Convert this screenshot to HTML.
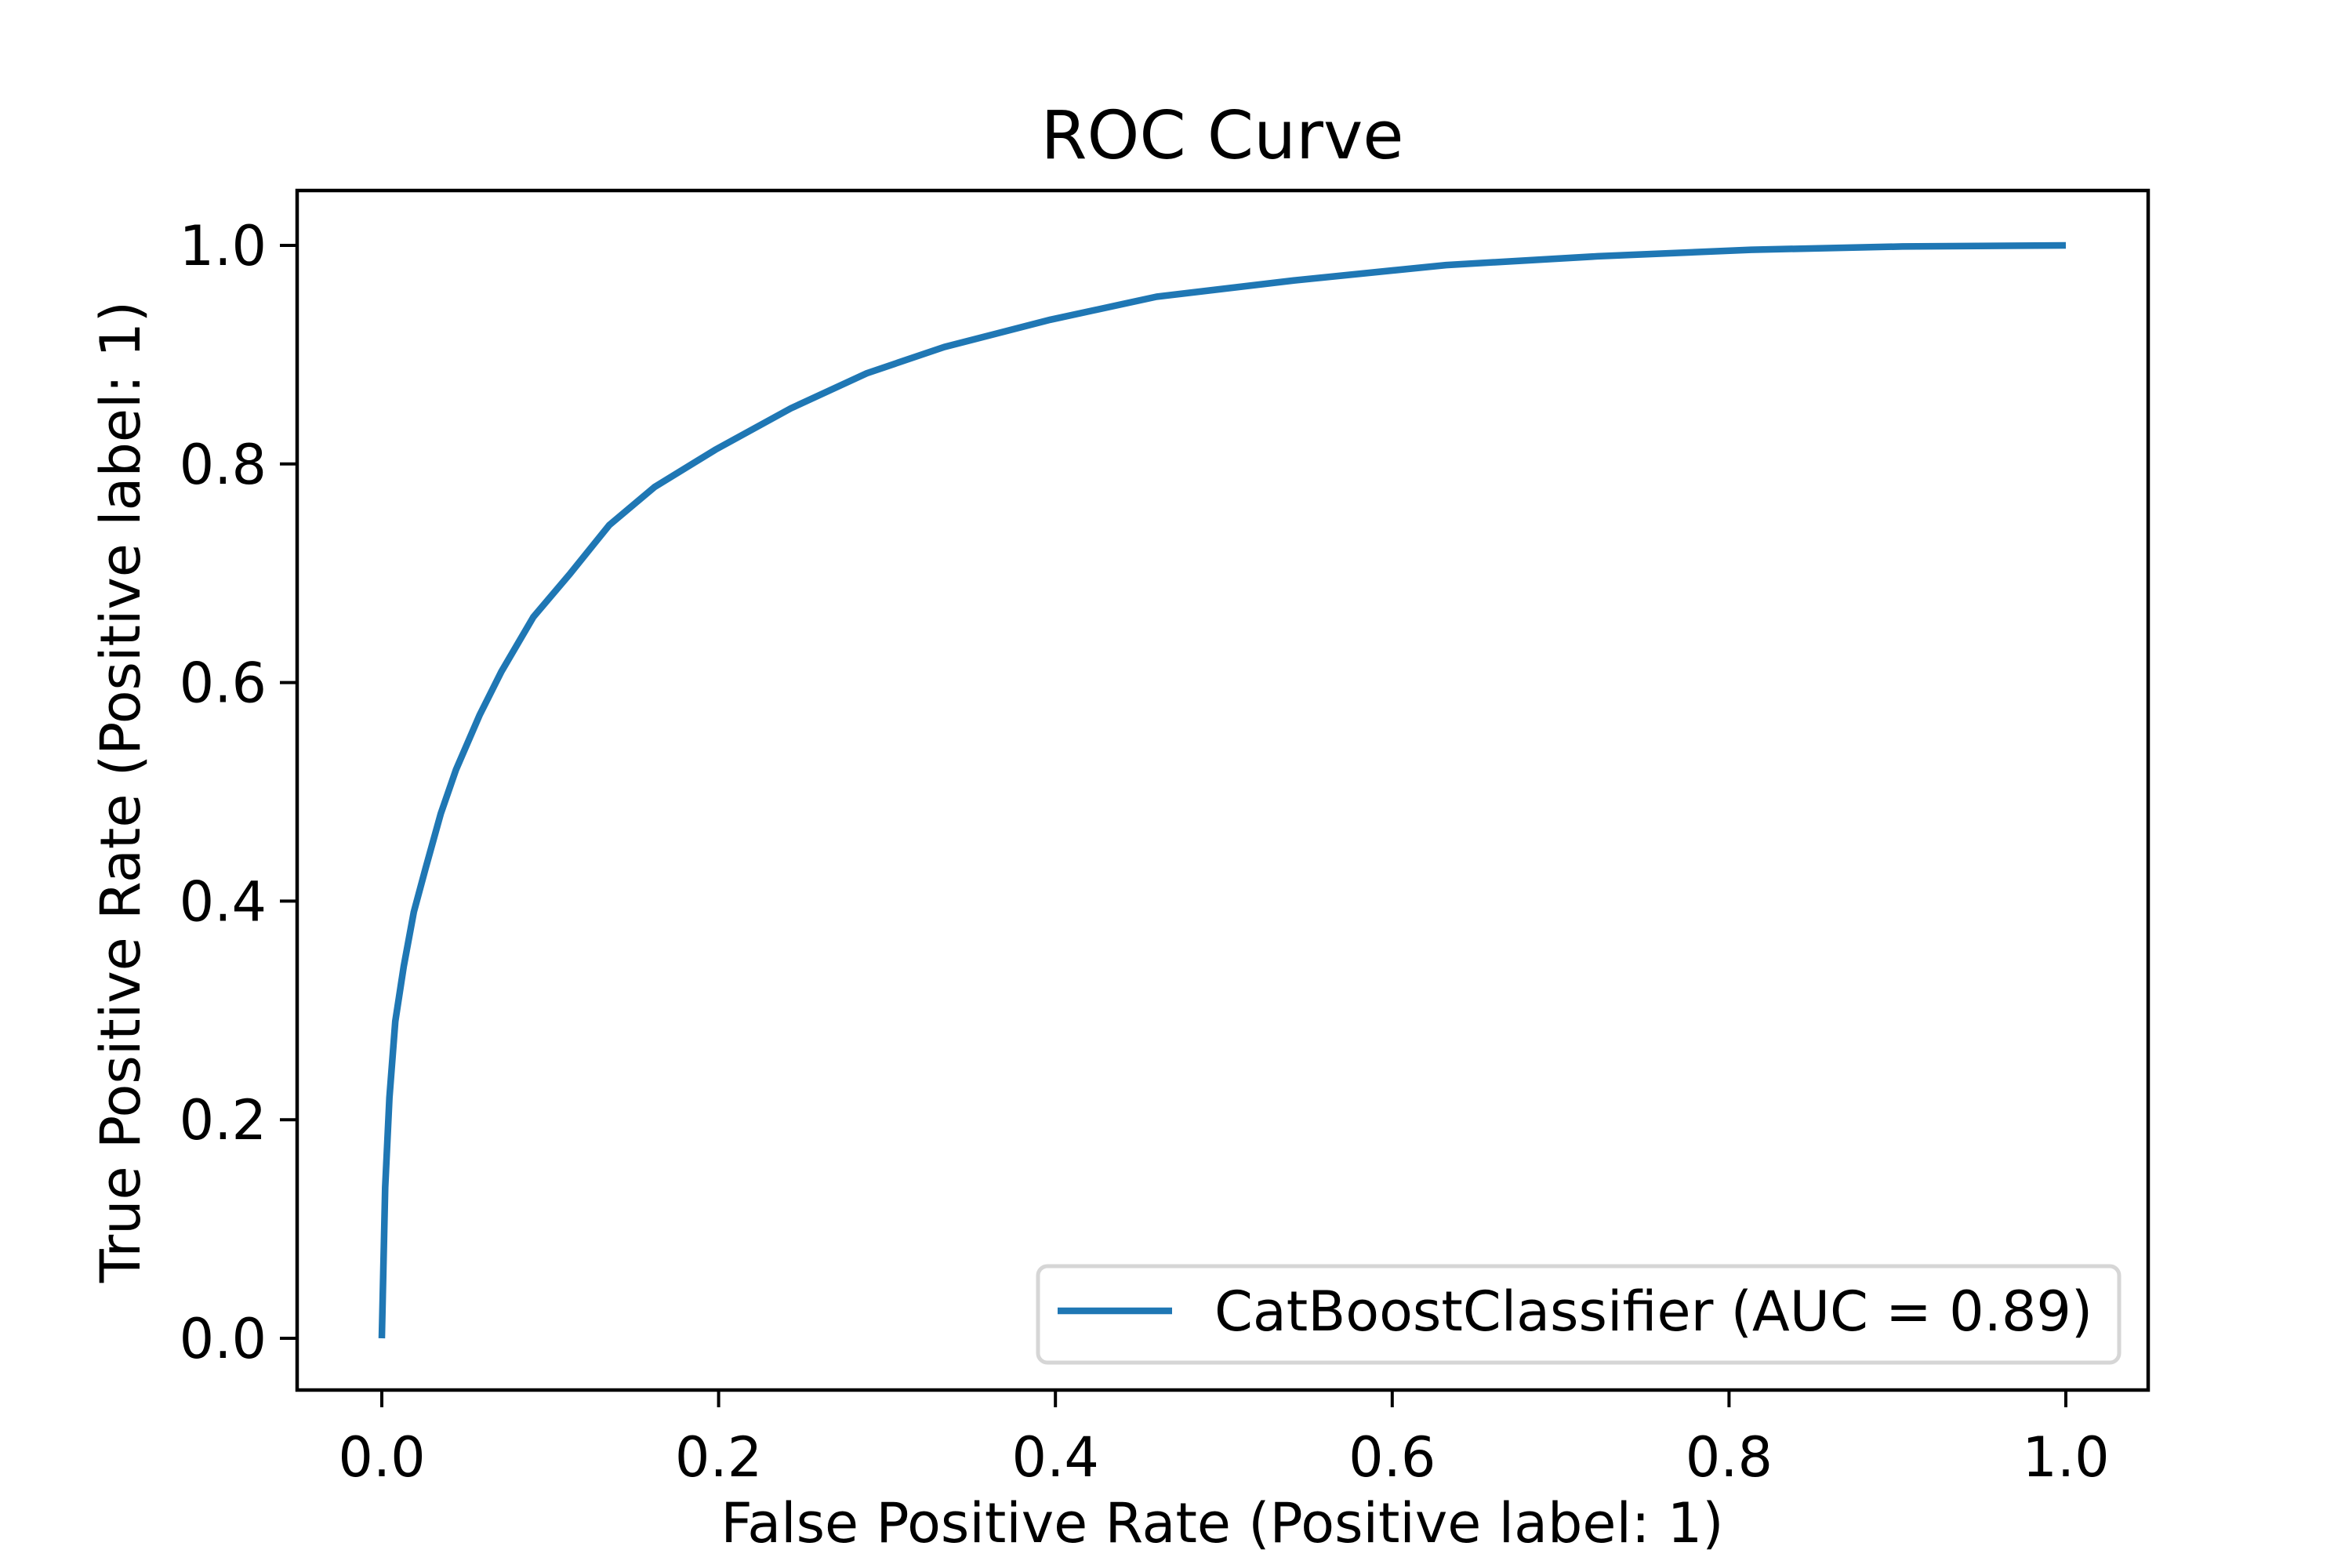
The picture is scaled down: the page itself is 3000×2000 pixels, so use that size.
<!DOCTYPE html>
<html><head><meta charset="utf-8"><style>
html,body{margin:0;padding:0;background:#fff;}
svg{display:block;font-family:"DejaVu Sans","Liberation Sans",sans-serif;}
</style></head><body>
<svg id="chart" width="3000" height="2000" viewBox="0 0 3000 2000">
<rect width="3000" height="2000" fill="#fff"/>
<text x="1559" y="202" font-size="85" text-anchor="middle">ROC Curve</text>
<g id="axes"></g>
<rect x="379" y="243" width="2361" height="1530" fill="none" stroke="#000" stroke-width="4.5"/>
<text x="1559" y="1967" font-size="70" text-anchor="middle">False Positive Rate (Positive label: 1)</text>
<text transform="translate(178,1010) rotate(-90)" font-size="70" text-anchor="middle">True Positive Rate (Positive label: 1)</text>
<g>
<rect x="1324" y="1615" width="1379" height="123" rx="12" fill="#fff" fill-opacity="0.8" stroke="#d6d6d6" stroke-width="5"/>
<line x1="1349" y1="1672" x2="1495" y2="1672" stroke="#1f77b4" stroke-width="8.5"/>
<text x="1549" y="1697" font-size="70">CatBoostClassifier (AUC = 0.89)</text>
</g>
</svg>
<script>
const fprValues = [0,0.002,0.0045,0.008,0.013,0.019,0.026,0.035,0.044,0.058,0.071,0.09,0.112,0.135,0.162,0.198,0.243,0.288,0.334,0.397,0.46,0.542,0.632,0.722,0.813,0.903,1];
const tprValues = [0,0.138,0.22,0.29,0.34,0.39,0.43,0.48,0.52,0.57,0.61,0.66,0.70,0.744,0.779,0.813,0.851,0.883,0.907,0.932,0.953,0.968,0.982,0.990,0.996,0.999,1];
const xTicks = [0,0.2,0.4,0.6,0.8,1.0];
const yTicks = [0,0.2,0.4,0.6,0.8,1.0];
const NS='http://www.w3.org/2000/svg';
function xScale(v){return 487+v*(2635-487);}
function yScale(v){return 1707-v*(1707-313);}
const g=document.getElementById('axes');
function mk(t,a){const e=document.createElementNS(NS,t);for(const k in a)e.setAttribute(k,a[k]);return e;}
xTicks.forEach(v=>{
  const x=xScale(v);
  const l=mk('line',{x1:x,y1:1773,x2:x,y2:1795,stroke:'#000','stroke-width':4});
  
  
  g.appendChild(l);
  const t=mk('text',{x:x,y:1883,'font-size':70,'text-anchor':'middle'});
  t.textContent=v.toFixed(1);
  
  
  g.appendChild(t);
});
yTicks.forEach(v=>{
  const y=yScale(v);
  const l=mk('line',{x1:357,y1:y,x2:379,y2:y,stroke:'#000','stroke-width':4});
  
  
  g.appendChild(l);
  const t=mk('text',{x:340,y:y+25,'font-size':70,'text-anchor':'end'});
  t.textContent=v.toFixed(1);
  
  
  g.appendChild(t);
});
const d=fprValues.map((f,i)=>(i?'L':'M')+xScale(f).toFixed(1)+','+yScale(tprValues[i]).toFixed(1)).join(' ');
const p=mk('path',{d:d,fill:'none',stroke:'#1f77b4','stroke-width':8.5,'stroke-linejoin':'round'});


g.appendChild(p);
</script>
</body></html>
